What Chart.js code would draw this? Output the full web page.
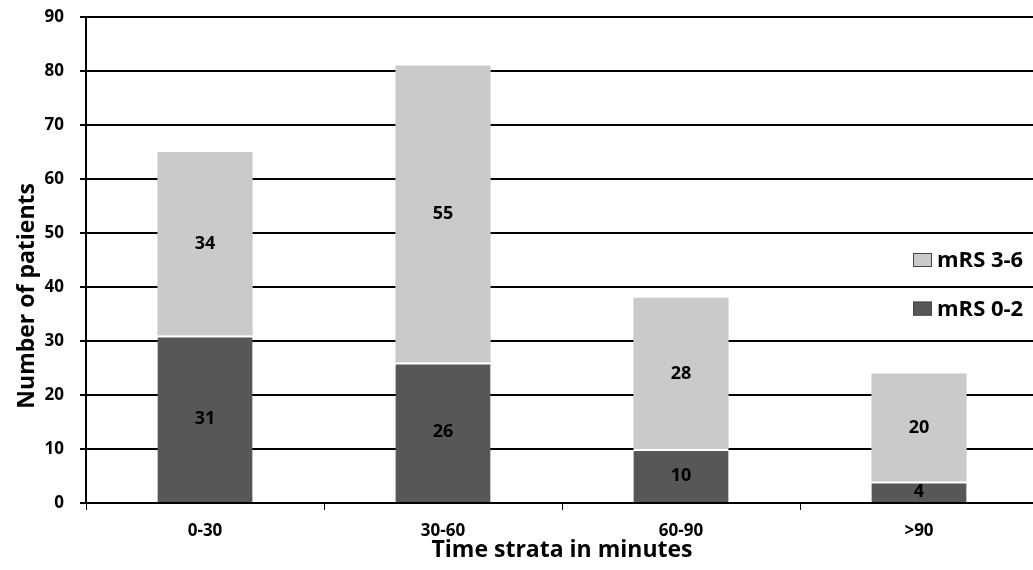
<!DOCTYPE html>
<html>
<head>
<meta charset="utf-8">
<script src="https://cdn.jsdelivr.net/npm/chart.js@4/dist/chart.umd.min.js"></script>
<style>
  html, body { margin: 0; padding: 0; background: #fff; overflow: hidden; }
  /* plot runs a little past the right edge, like the cropped original */
  #wrap { width: 1040px; height: 570px; position: relative; }
</style>
</head>
<body>
<div id="wrap"><canvas id="barChart"></canvas></div>
<script>
const categories = ["0-30", "30-60", "60-90", ">90"];
const mrsGood = [31, 26, 10, 4];
const mrsPoor = [34, 55, 28, 20];
const seriesNames = ["mRS 0-2", "mRS 3-6"];
const yTicks = [0, 10, 20, 30, 40, 50, 60, 70, 80, 90];

const FONT = "'Open Sans', 'DejaVu Sans', sans-serif";
const darkFill = "#575757";
const lightFill = "#cacaca";

// value labels in the middle of each segment
const segmentLabels = {
  id: "segmentLabels",
  afterDatasetsDraw(chart) {
    const ctx = chart.ctx;
    ctx.save();
    ctx.font = "bold 18px " + FONT;
    ctx.fillStyle = "#000";
    ctx.textAlign = "center";
    ctx.textBaseline = "middle";
    chart.data.datasets.forEach((ds, i) => {
      chart.getDatasetMeta(i).data.forEach((bar, j) => {
        const mid = (bar.y + bar.base) / 2;
        ctx.fillText(String(ds.data[j]), bar.x, mid);
      });
    });
    ctx.restore();
  }
};

// legend drawn over the plot, cut off at the right edge like the original
const sideLegend = {
  id: "sideLegend",
  afterDraw(chart) {
    const ctx = chart.ctx;
    const ys = chart.scales.y;
    const items = [
      { text: seriesNames[1], color: lightFill, at: 45 },
      { text: seriesNames[0], color: darkFill, at: 36 }
    ];
    ctx.save();
    ctx.font = "bold 22px " + FONT;
    ctx.textBaseline = "middle";
    ctx.textAlign = "left";
    items.forEach(it => {
      const y = ys.getPixelForValue(it.at);
      ctx.fillStyle = it.color;
      ctx.fillRect(913, y - 7, 19, 14);
      ctx.strokeStyle = "#444";
      ctx.lineWidth = 1;
      ctx.strokeRect(913.5, y - 6.5, 18, 13);
      ctx.fillStyle = "#000";
      ctx.fillText(it.text, 937, y + 1);
    });
    ctx.restore();
  }
};

// trailing spaces push the rotated title a bit lower, as in the original
const yTitle = "Number of patients" + "\u00a0".repeat(12);

new Chart(document.getElementById("barChart").getContext("2d"), {
  type: "bar",
  data: {
    labels: categories,
    datasets: [
      {
        label: seriesNames[0],
        data: mrsGood,
        backgroundColor: darkFill,
        borderColor: "#ffffff",
        borderWidth: { top: 2 },
        borderSkipped: false,
        barPercentage: 0.4,
        categoryPercentage: 1
      },
      {
        label: seriesNames[1],
        data: mrsPoor,
        backgroundColor: lightFill,
        borderWidth: 0,
        barPercentage: 0.4,
        categoryPercentage: 1
      }
    ]
  },
  options: {
    responsive: true,
    maintainAspectRatio: false,
    animation: false,
    layout: { padding: { top: 17, right: 2, left: 0, bottom: 0 } },
    plugins: {
      legend: { display: false },
      tooltip: { enabled: false }
    },
    scales: {
      x: {
        stacked: true,
        afterFit: s => { s.height = 67; },
        grid: {
          offset: true,
          drawOnChartArea: false,
          color: "#000",
          tickLength: 7,
          lineWidth: 1
        },
        border: { display: false },
        ticks: {
          color: "#000",
          font: { family: FONT, size: 17, weight: "bold" },
          padding: 11
        },
        title: {
          display: true,
          text: "Time strata in minutes",
          color: "#000",
          font: { family: FONT, size: 23, weight: "bold" },
          padding: { top: 0, bottom: 6 }
        }
      },
      y: {
        stacked: true,
        min: 0,
        max: 90,
        afterFit: s => {
          s.width = 86;
          s.paddingTop = 0;
          s.paddingBottom = 0;
        },
        afterBuildTicks: s => { s.ticks = yTicks.map(v => ({ value: v })); },
        grid: {
          color: "#000",
          lineWidth: 2,
          tickLength: 6
        },
        border: { display: true, color: "#000", width: 2 },
        ticks: {
          color: "#000",
          font: { family: FONT, size: 17, weight: "bold" },
          padding: 16
        },
        title: {
          display: true,
          text: yTitle,
          color: "#000",
          font: { family: FONT, size: 23, weight: "bold" },
          padding: { top: 14, bottom: 0 }
        }
      }
    }
  },
  plugins: [segmentLabels, sideLegend]
});
</script>
</body>
</html>
